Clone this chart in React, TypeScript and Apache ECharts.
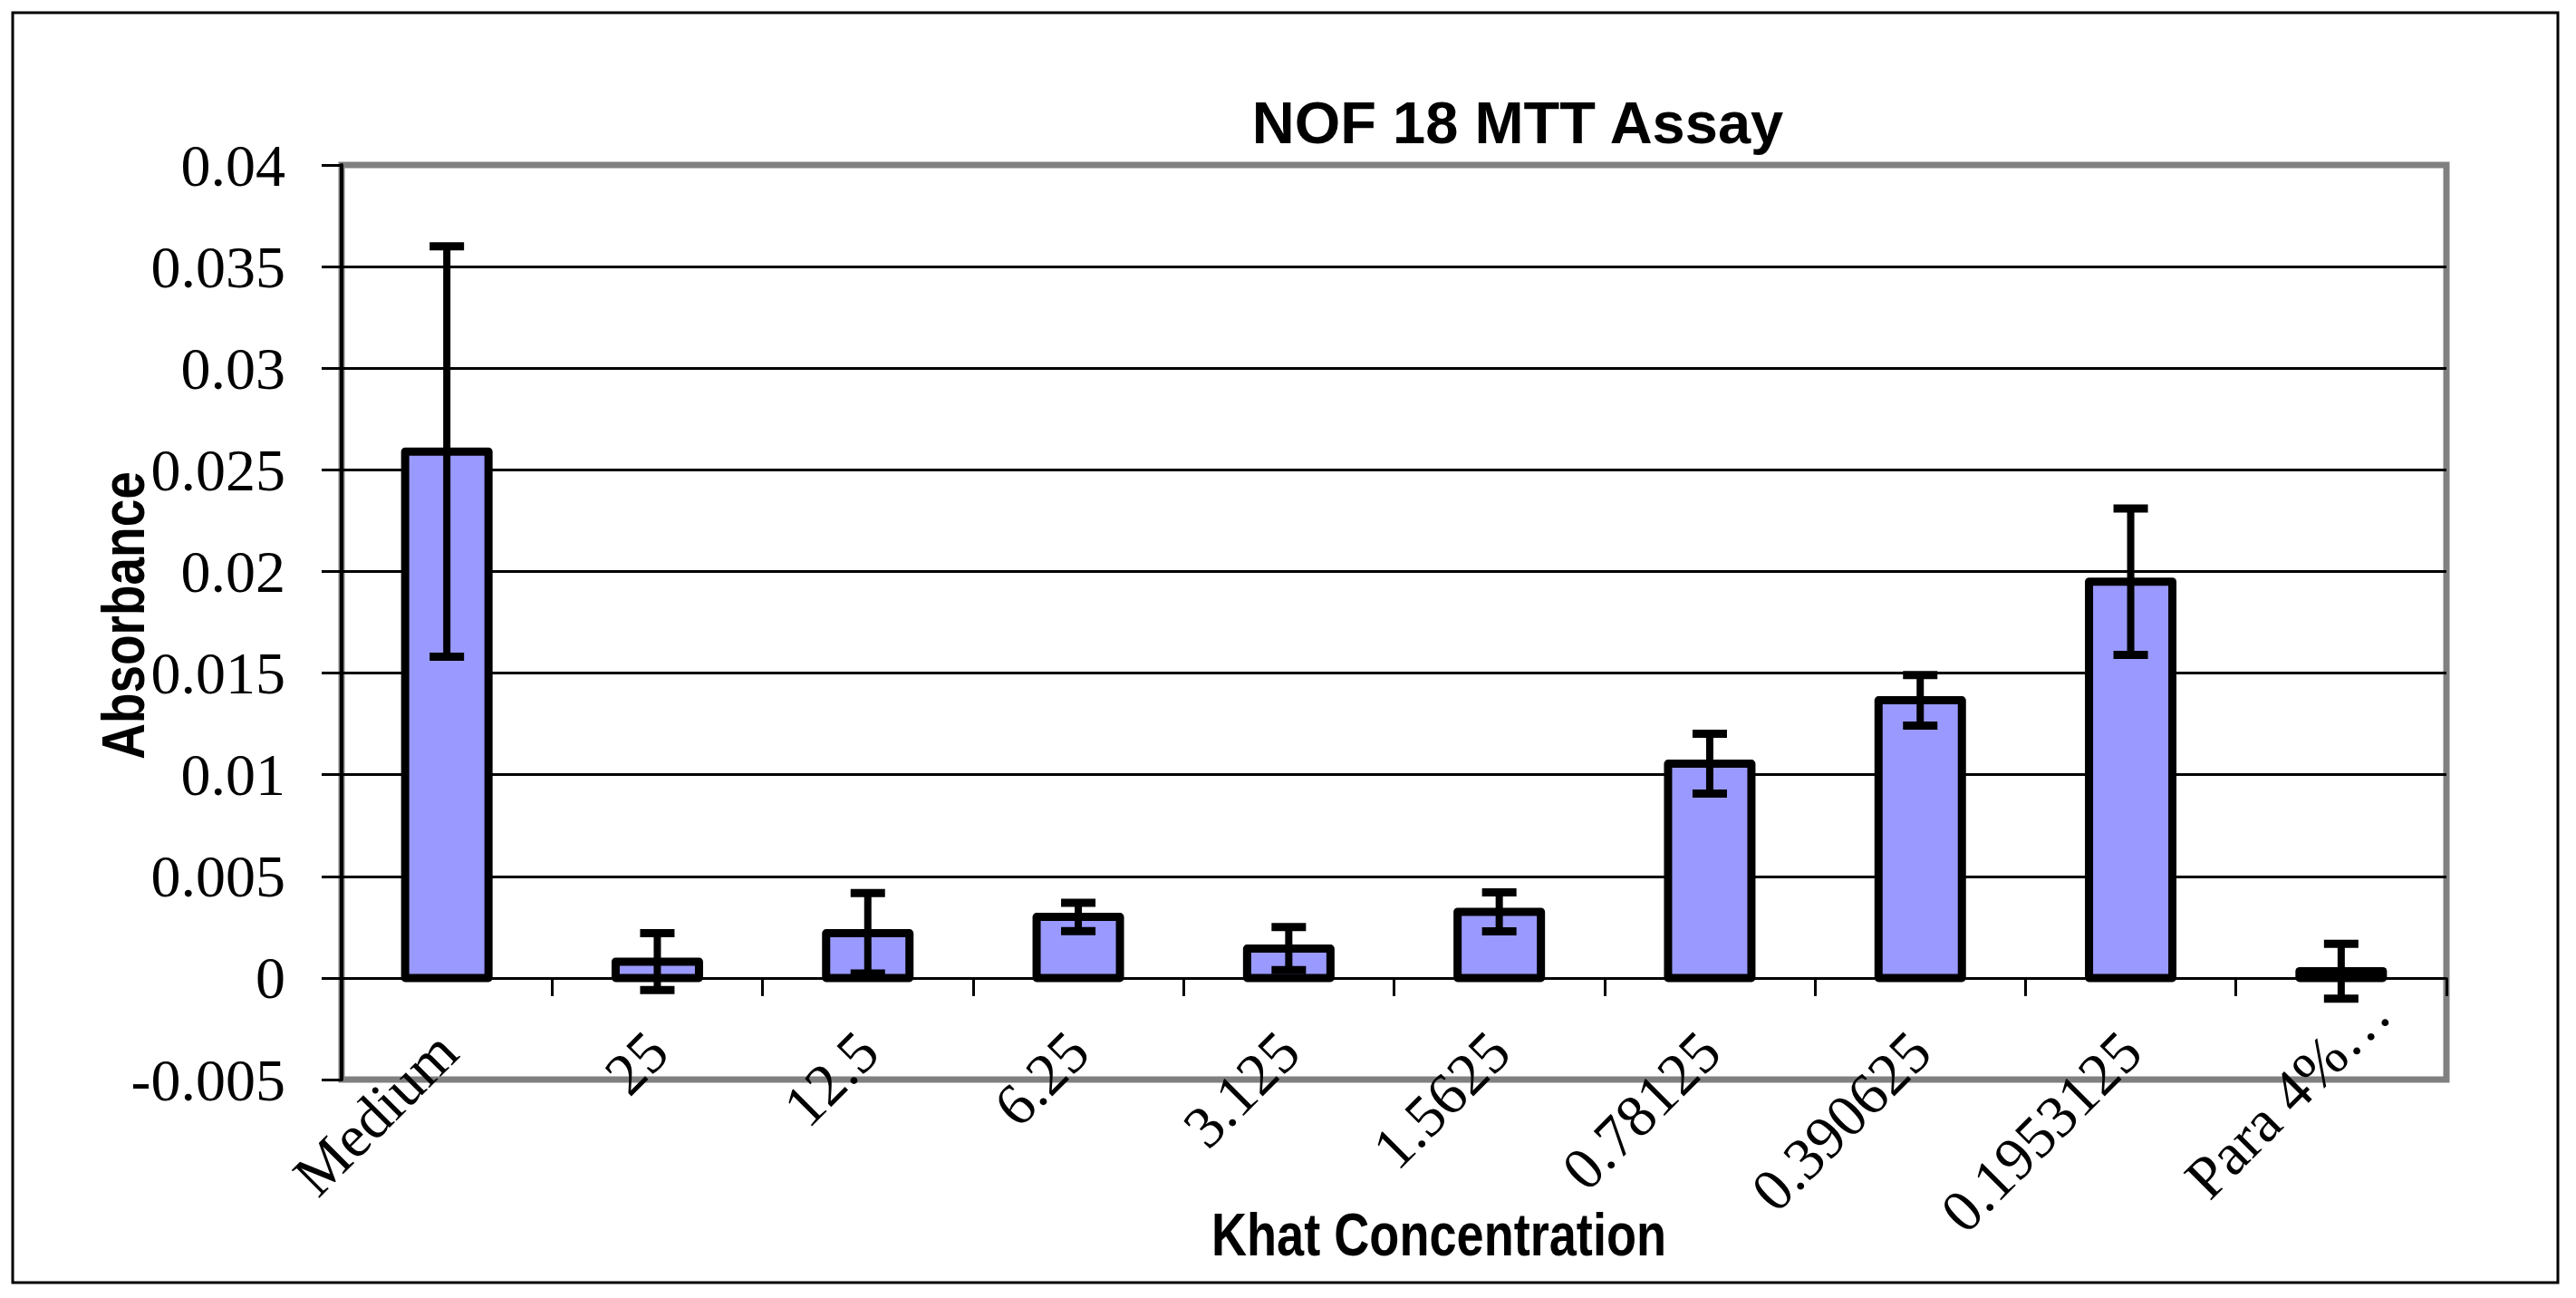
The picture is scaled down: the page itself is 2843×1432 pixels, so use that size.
import React, { useEffect, useRef } from "react";
import * as echarts from "echarts";

const categories = ["Medium", "25", "12.5", "6.25", "3.125", "1.5625", "0.78125", "0.390625", "0.1953125", "Para 4%…"];
const means = [0.0259, 0.0008, 0.0022, 0.003, 0.00144, 0.00325, 0.01054, 0.01366, 0.0195, 0.00033];
const errors = [0.0101, 0.0014, 0.00198, 0.0007, 0.00106, 0.00096, 0.00147, 0.00124, 0.0036, 0.00135];
const yTicks = { min: -0.005, max: 0.04, interval: 0.005 };
const titleText = "NOF 18 MTT Assay";
const xName = "Khat Concentration";
const yName = "Absorbance";

const BAR_W = 92;

export default function App() {
  const ref = useRef<HTMLDivElement>(null);
  useEffect(() => {
    if (!ref.current) return;
    const chart = echarts.init(ref.current, undefined, { renderer: "svg" });
    const errData = categories.map((c, i) => [i, means[i] - errors[i], means[i] + errors[i], means[i]]);
    const sans = "'Liberation Sans', Arial, sans-serif";
    const serif = "'Liberation Serif', 'Times New Roman', serif";
    const lastCat = categories[categories.length - 1];
    chart.setOption({
      animation: false,
      backgroundColor: "#ffffff",
      title: {
        text: titleText,
        left: 1670,
        top: 98,
        textAlign: "center",
        textStyle: { fontFamily: sans, fontWeight: "bold", fontSize: 65, color: "#000" },
      },
      grid: {
        left: 377,
        top: 182,
        right: 143,
        bottom: 241,
        show: true,
        borderColor: "#808080",
        borderWidth: 7,
        backgroundColor: "transparent",
        outerBoundsMode: "none",
      },
      graphic: [
        {
          type: "rect",
          shape: { x: 14, y: 14, width: 2809, height: 1401 },
          style: { fill: "none", stroke: "#000", lineWidth: 3 },
          z: 0,
        },
        {
          type: "text",
          x: 1588,
          y: 1362,
          scaleX: 0.82,
          style: {
            text: xName,
            fontFamily: sans,
            fontWeight: "bold",
            fontSize: 66,
            fill: "#000",
            align: "center",
            verticalAlign: "middle",
          },
        },
        {
          type: "text",
          x: 136,
          y: 679,
          rotation: Math.PI / 2,
          scaleX: 0.82,
          style: {
            text: yName,
            fontFamily: sans,
            fontWeight: "bold",
            fontSize: 67,
            fill: "#000",
            align: "center",
            verticalAlign: "middle",
          },
        },
      ],
      xAxis: {
        type: "category",
        data: categories,
        axisLine: { onZero: true, lineStyle: { color: "#000", width: 3 } },
        axisTick: { show: true, alignWithLabel: false, length: 20, lineStyle: { color: "#000", width: 3 } },
        axisLabel: {
          interval: 0,
          rotate: 45,
          margin: -42,
          fontFamily: serif,
          fontSize: 66,
          color: "#000",
          formatter: (v: string) => (v === lastCat ? `{p|${v}}` : v),
          rich: {
            p: { fontFamily: serif, fontSize: 66, color: "#000", padding: [0, -60, 0, 0] },
          },
        },
        splitLine: { show: false },
      },
      yAxis: {
        type: "value",
        min: yTicks.min,
        max: yTicks.max,
        interval: yTicks.interval,
        axisLine: { show: true, lineStyle: { color: "#000", width: 4 } },
        axisTick: { show: true, length: 22, lineStyle: { color: "#000", width: 3 } },
        axisLabel: {
          margin: 62,
          fontFamily: serif,
          fontSize: 66,
          color: "#000",
          formatter: (v: number) => String(+v.toFixed(4)),
        },
        splitLine: { show: true, showMinLine: false, showMaxLine: false, lineStyle: { color: "#000", width: 3 } },
      },
      series: [
        {
          type: "bar",
          data: means,
          barWidth: BAR_W,
          itemStyle: { color: "#9999ff", borderWidth: 0 },
          z: 2,
        },
        {
          type: "custom",
          data: errData,
          z: 3,
          renderItem: (params: any, api: any) => {
            const i = api.value(0);
            const lo = api.coord([i, api.value(1)]);
            const hi = api.coord([i, api.value(2)]);
            const top = api.coord([i, api.value(3)]);
            const base = api.coord([i, 0]);
            const hw = 19;
            const stroke = { stroke: "#000", lineWidth: 8 };
            const cap = { stroke: "#000", lineWidth: 9 };
            return {
              type: "group",
              children: [
                {
                  type: "rect",
                  shape: { x: top[0] - BAR_W / 2, y: top[1], width: BAR_W, height: base[1] - top[1] },
                  style: { fill: "none", stroke: "#000", lineWidth: 9, lineJoin: "round" },
                },
                { type: "line", shape: { x1: lo[0], y1: lo[1], x2: hi[0], y2: hi[1] }, style: stroke },
                { type: "line", shape: { x1: hi[0] - hw, y1: hi[1], x2: hi[0] + hw, y2: hi[1] }, style: cap },
                { type: "line", shape: { x1: lo[0] - hw, y1: lo[1], x2: lo[0] + hw, y2: lo[1] }, style: cap },
              ],
            };
          },
        },
      ],
    });
    return () => chart.dispose();
  }, []);
  return <div ref={ref} style={{ position: "fixed", left: 0, top: 0, width: 2843, height: 1432 }} />;
}
